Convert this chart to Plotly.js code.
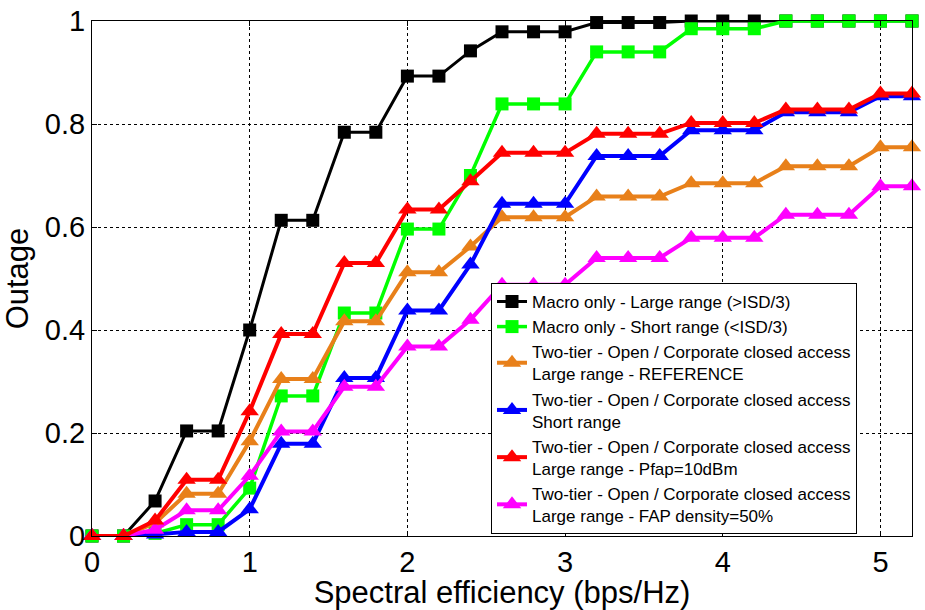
<!DOCTYPE html>
<html>
<head>
<meta charset="utf-8">
<script src="https://cdn.plot.ly/plotly-3.0.1.min.js"></script>
<style>html,body{margin:0;padding:0;background:#fff;}#chart{width:925px;height:610px;}</style>
</head>
<body>
<div id="chart"></div>
<script>
const xVals = [0,0.2,0.4,0.6,0.8,1.0,1.2,1.4,1.6,1.8,2.0,2.2,2.4,2.6,2.8,3.0,3.2,3.4,3.6,3.8,4.0,4.2,4.4,4.6,4.8,5.0,5.2];
const macroLarge = [0,0,0.068,0.204,0.204,0.40,0.613,0.613,0.784,0.784,0.893,0.893,0.942,0.979,0.979,0.979,0.997,0.997,0.997,1,1,1,1,1,1,1,1];
const macroShort = [0,0,0.005,0.022,0.022,0.093,0.272,0.272,0.433,0.433,0.596,0.596,0.70,0.839,0.839,0.839,0.94,0.94,0.94,0.985,0.985,0.985,1,1,1,1,1];
const twoTierRef = [0,0,0.025,0.082,0.082,0.184,0.305,0.305,0.417,0.417,0.512,0.512,0.562,0.619,0.619,0.619,0.659,0.659,0.659,0.685,0.685,0.685,0.718,0.718,0.718,0.755,0.755];
const twoTierShort = [0,0,0.003,0.008,0.008,0.052,0.179,0.179,0.307,0.307,0.438,0.438,0.527,0.645,0.645,0.645,0.738,0.738,0.738,0.788,0.788,0.788,0.823,0.823,0.823,0.854,0.854];
const twoTierPfap = [0,0,0.03,0.109,0.109,0.242,0.392,0.392,0.530,0.530,0.634,0.634,0.689,0.744,0.744,0.744,0.781,0.781,0.781,0.802,0.802,0.802,0.828,0.828,0.828,0.859,0.859];
const twoTierDensity = [0,0,0.012,0.05,0.05,0.117,0.203,0.203,0.29,0.29,0.368,0.368,0.42,0.488,0.488,0.488,0.540,0.540,0.540,0.579,0.579,0.579,0.624,0.624,0.624,0.679,0.679];

const seriesNames = [
  'Macro only - Large range (>ISD/3)',
  'Macro only - Short range (<ISD/3)',
  'Two-tier - Open / Corporate closed access<br>Large range - REFERENCE',
  'Two-tier - Open / Corporate closed access<br>Short range',
  'Two-tier - Open / Corporate closed access<br>Large range - Pfap=10dBm',
  'Two-tier - Open / Corporate closed access<br>Large range - FAP density=50%'
];

function mk(y, name, color, symbol, size, width, rank) {
  return {
    x: xVals, y: y, name: name, type: 'scatter', mode: 'lines+markers',
    line: {color: color, width: width},
    marker: {color: color, symbol: symbol, size: size, line: {width: 0}},
    cliponaxis: false, legendrank: rank
  };
}

const traces = [
  mk(macroLarge, seriesNames[0], '#000000', 'square', 13, 3, 1),
  mk(macroShort, seriesNames[1], '#00ff00', 'square', 13, 3.5, 2),
  mk(twoTierRef, seriesNames[2], '#e8801a', 'triangle-up', 16, 4, 3),
  mk(twoTierShort, seriesNames[3], '#0000ff', 'triangle-up', 16, 4, 4),
  mk(twoTierDensity, seriesNames[5], '#ff00ff', 'triangle-up', 16, 4, 6),
  mk(twoTierPfap, seriesNames[4], '#ff0000', 'triangle-up', 16, 4, 5)
];

const ff = 'Arial, Liberation Sans, sans-serif';
const axisFont = {family: ff, size: 29, color: '#000'};
const layout = {
  width: 925, height: 610,
  margin: {l: 92, r: 13, t: 21, b: 74},
  paper_bgcolor: '#fff', plot_bgcolor: '#fff',
  font: {family: ff, color: '#000'},
  showlegend: true,
  legend: {
    x: 0.4866, y: 0.004, xanchor: 'left', yanchor: 'bottom',
    bgcolor: '#fff', bordercolor: '#000', borderwidth: 1,
    font: {family: ff, size: 17, color: '#000'},
    tracegroupgap: 0
  },
  xaxis: {
    range: [0, 5.2], tickvals: [0,1,2,3,4,5], ticktext: ['0','1','2','3','4','5'],
    showline: true, linecolor: '#000', linewidth: 1, mirror: 'ticks',
    ticks: 'inside', ticklen: 5, tickcolor: '#000',
    showgrid: true, gridcolor: '#000', gridwidth: 1, griddash: '3px,3px',
    zeroline: false, tickfont: axisFont, automargin: false,
    title: {text: 'Spectral efficiency (bps/Hz)', font: {family: ff, size: 31, color: '#000'}, standoff: 0}
  },
  yaxis: {
    range: [0, 1], tickvals: [0,0.2,0.4,0.6,0.8,1], ticktext: ['0','0.2','0.4','0.6','0.8','1'],
    showline: true, linecolor: '#000', linewidth: 1, mirror: 'ticks',
    ticks: 'inside', ticklen: 5, tickcolor: '#000',
    showgrid: true, gridcolor: '#000', gridwidth: 1, griddash: '3px,3px',
    zeroline: false, tickfont: axisFont, automargin: false,
    title: {text: 'Outage', font: {family: ff, size: 31, color: '#000'}, standoff: 8}
  }
};

Plotly.newPlot('chart', traces, layout, {displayModeBar: false, staticPlot: true});
</script>
</body>
</html>
